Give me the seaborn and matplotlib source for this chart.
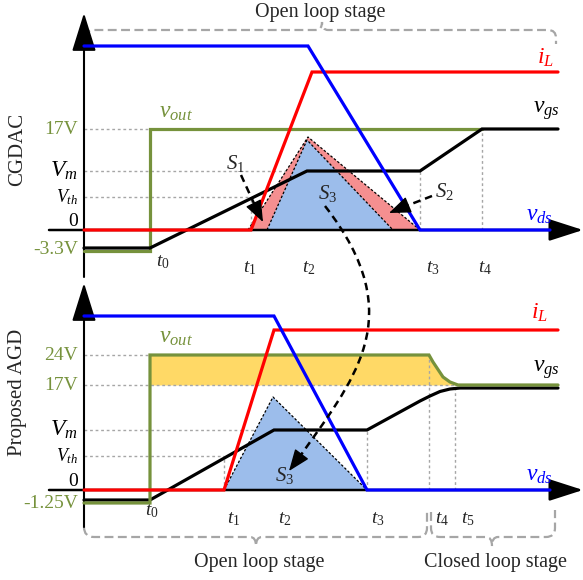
import matplotlib
matplotlib.use("Agg")
import matplotlib.pyplot as plt
from matplotlib.path import Path
from matplotlib.patches import PathPatch
import seaborn as sns

sns.set_theme(style="white")
plt.rcParams["font.family"] = ["Liberation Serif", "DejaVu Serif"]
plt.rcParams["mathtext.fontset"] = "custom"
plt.rcParams["mathtext.rm"] = "Liberation Serif"
plt.rcParams["mathtext.it"] = "Liberation Serif:italic"

# ---------------- waveform data (time in diagram units, level above zero line) -------------
# CGDAC panel
top_tick_labels = ["$t_0$", "$t_1$", "$t_2$", "$t_3$", "$t_4$"]
top_ticks = [150, 251, 307, 420, 482]
top_vds_t = [84, 308, 420, 550]
top_vds = [184, 184, 0, 0]
top_il_t = [84, 251, 312, 558]
top_il = [0, 0, 158, 158]
top_vout_t = [84, 150, 150, 482]
top_vout = [-21, -21, 101, 101]
top_vgs_t = [84, 150, 307, 420, 482, 558]
top_vgs = [-18, -18, 59, 59, 101, 101]
top_s_outer_t = [248, 308, 420]
top_s_outer = [0, 93, 0]
top_s_inner_t = [267, 307, 393]
top_s_inner = [0, 90, 0]
top_level_labels = ["17V", "$V_m$", "$V_{th}$", "0", "-3.3V"]
top_levels = [101, 59, 33, 8, -19]

# Proposed AGD panel
bot_tick_labels = ["$t_0$", "$t_1$", "$t_2$", "$t_3$", "$t_4$", "$t_5$"]
bot_ticks = [150, 224, 274, 367, 429, 455]
bot_vds_t = [84, 274, 367, 550]
bot_vds = [174, 174, 0, 0]
bot_il_t = [84, 224, 274, 558]
bot_il = [0, 0, 160, 160]
bot_vout_t = [84, 150, 150, 429, 433, 437, 443, 450, 458, 558]
bot_vout = [-13, -13, 135, 135, 128, 122, 113, 108, 105, 105]
bot_vgs_t = [84, 150, 274, 367, 420, 430, 440, 450, 460, 558]
bot_vgs = [-10, -10, 60, 60, 89, 94, 98.5, 101, 102, 102]
bot_s_t = [224, 273, 367]
bot_s = [0, 93, 0]
bot_level_labels = ["24V", "17V", "$V_m$", "$V_{th}$", "0", "-1.25V"]
bot_levels = [135, 105, 60, 34, 8, -13]

# ---------------- styling ----------------
BLUE = "#0000FF"
RED = "#FF0000"
GREEN = "#76923C"
BLACK = "#000000"
GRID = "#A6A6A6"
FILL_BLUE = "#9CBDEB"
FILL_PINK = "#F58F90"
FILL_YELLOW = "#FFD966"
LW = 2.3

fig = plt.figure(figsize=(5.83, 5.80), dpi=100)
ax = fig.add_axes([0, 0, 1, 1])
ax.set_xlim(0, 583)
ax.set_ylim(580, 0)
ax.axis("off")

TOP0 = 230   # zero line of upper panel
BOT0 = 490   # zero line of lower panel
AXIS_X = 84


def Y(base, vals):
    return [base - v for v in vals]


def wave(t, v, base, color, z=3, lw=LW):
    sns.lineplot(x=t, y=Y(base, v), sort=False, estimator=None, color=color,
                 lw=lw, ax=ax, zorder=z, solid_joinstyle="miter")


def dotted_h(level, base, x_end):
    ax.plot([AXIS_X, x_end], [base - level] * 2, ls=(0, (2, 2)), color=GRID, lw=1, zorder=1)


def dotted_v(x, base, level):
    ax.plot([x, x], [base, base - level], ls=(0, (2, 2)), color=GRID, lw=1, zorder=1)


def axes_arrows(base, y_top, y_bottom):
    ax.annotate("", xy=(583, base), xytext=(49, base),
                arrowprops=dict(arrowstyle="-|>,head_length=1.4,head_width=0.45",
                                color=BLACK, lw=1.8, shrinkA=0, shrinkB=0, mutation_scale=15),
                zorder=2)
    ax.annotate("", xy=(AXIS_X, y_top), xytext=(AXIS_X, y_bottom),
                arrowprops=dict(arrowstyle="-|>,head_length=1.6,head_width=0.5",
                                color=BLACK, lw=1.5, shrinkA=0, shrinkB=0, mutation_scale=15),
                zorder=2)


def dashed_arrow(start, tip, head_from):
    ax.plot([start[0], head_from[0]], [start[1], head_from[1]], color=BLACK,
            lw=1.8, ls=(0, (3, 2)), zorder=8)
    ax.annotate("", xy=tip, xytext=head_from,
                arrowprops=dict(arrowstyle="-|>,head_length=0.9,head_width=0.35",
                                color=BLACK, lw=1.0, shrinkA=0, shrinkB=0, mutation_scale=15),
                zorder=8)


def brace(verts, codes):
    ax.add_patch(PathPatch(Path(verts, codes), fill=False, edgecolor=GRID, lw=1.6,
                           ls=(0, (4, 2)), zorder=1))


# ================= upper panel: CGDAC =================
axes_arrows(TOP0, 13, 277)

# gridlines to the key levels and instants
dotted_h(top_levels[0], TOP0, top_vout_t[1])
dotted_h(top_levels[1], TOP0, top_ticks[2])
dotted_h(top_levels[2], TOP0, top_ticks[1])
dotted_v(top_ticks[1], TOP0, top_levels[2])
dotted_v(top_ticks[2], TOP0, top_levels[1])
dotted_v(top_ticks[3], TOP0, top_levels[1])
dotted_v(top_ticks[4], TOP0, top_levels[0])

# switching-loss areas S1, S2 (pink) and S3 (blue)
ax.fill(top_s_outer_t, Y(TOP0, top_s_outer), color=FILL_PINK, lw=0, zorder=1.5)
ax.fill(top_s_inner_t, Y(TOP0, top_s_inner), color=FILL_BLUE, lw=0, zorder=1.6)
ax.plot(top_s_outer_t, Y(TOP0, top_s_outer), color=BLACK, lw=0.9, ls=(0, (2, 1.5)), zorder=1.7)
ax.plot(top_s_inner_t, Y(TOP0, top_s_inner), color=BLACK, lw=0.9, ls=(0, (2, 1.5)), zorder=1.7)

wave(top_vout_t, top_vout, TOP0, GREEN, z=3)
wave(top_vgs_t, top_vgs, TOP0, BLACK, z=4)
wave(top_il_t, top_il, TOP0, RED, z=5)
wave(top_vds_t, top_vds, TOP0, BLUE, z=6)

# ================= lower panel: Proposed AGD =================
axes_arrows(BOT0, 283, 527)

ax.fill_between(bot_vout_t[2:9], Y(BOT0, bot_vout[2:9]), BOT0 - bot_levels[1],
                color=FILL_YELLOW, lw=0, zorder=1)

dotted_h(bot_levels[0], BOT0, bot_vout_t[1])
dotted_h(bot_levels[1], BOT0, bot_ticks[5])
dotted_h(bot_levels[2], BOT0, bot_ticks[2])
dotted_h(bot_levels[3], BOT0, bot_ticks[1])
dotted_v(bot_ticks[1], BOT0, bot_levels[3])
dotted_v(bot_ticks[2], BOT0, bot_levels[2])
dotted_v(bot_ticks[3], BOT0, bot_levels[2])
dotted_v(bot_ticks[4], BOT0, bot_levels[0])
dotted_v(bot_ticks[5], BOT0, bot_levels[1])

ax.fill(bot_s_t, Y(BOT0, bot_s), color=FILL_BLUE, lw=0, zorder=1.6)
ax.plot(bot_s_t, Y(BOT0, bot_s), color=BLACK, lw=0.9, ls=(0, (2, 1.5)), zorder=1.7)

wave(bot_vgs_t, bot_vgs, BOT0, BLACK, z=3)
wave(bot_vout_t, bot_vout, BOT0, GREEN, z=4)
wave(bot_il_t, bot_il, BOT0, RED, z=5)
wave(bot_vds_t, bot_vds, BOT0, BLUE, z=6)

# ================= text =================
FS = 14
for lab, lev in zip(top_level_labels, top_levels):
    col = GREEN if lab.endswith("V") else BLACK
    size = 17 if "V_m" in lab else (13 if "th" in lab else FS)
    ax.text(78, TOP0 - lev, lab, ha="right", va="center", color=col, fontsize=size)
for lab, lev in zip(bot_level_labels, bot_levels):
    col = GREEN if lab.endswith("V") else BLACK
    size = 17 if "V_m" in lab else (13 if "th" in lab else FS)
    ax.text(78, BOT0 - lev, lab, ha="right", va="center", color=col, fontsize=size)

top_tick_pos = [163, 250, 309, 433, 485]
for lab, x, yy in zip(top_tick_labels, top_tick_pos, [262, 268, 268, 268, 268]):
    ax.text(x, yy, lab, ha="center", va="center", fontsize=FS)
bot_tick_pos = [152, 234, 285, 378, 442, 468]
for lab, x, yy in zip(bot_tick_labels, bot_tick_pos, [511, 519, 519, 519, 519, 519]):
    ax.text(x, yy, lab, ha="center", va="center", fontsize=FS)

ax.text(18, 149, "CGDAC", rotation=90, ha="center", va="center", fontsize=15)
ax.text(18, 392, "Proposed AGD", rotation=90, ha="center", va="center", fontsize=15)

SIG = 17
ax.text(545, 58, "$i_L$", color=RED, fontsize=SIG, ha="center", va="center")
ax.text(546, 111, "$v_{gs}$", color=BLACK, fontsize=SIG, ha="center", va="center")
ax.text(539, 216, "$v_{ds}$", color=BLUE, fontsize=SIG, ha="center", va="center")
ax.text(176, 113, "$v_{out}$", color=GREEN, fontsize=SIG, ha="center", va="center")
ax.text(539, 313, "$i_L$", color=RED, fontsize=SIG, ha="center", va="center")
ax.text(546, 370, "$v_{gs}$", color=BLACK, fontsize=SIG, ha="center", va="center")
ax.text(539, 475, "$v_{ds}$", color=BLUE, fontsize=SIG, ha="center", va="center")
ax.text(176, 338, "$v_{out}$", color=GREEN, fontsize=SIG, ha="center", va="center")

ax.text(235, 163, "$S_1$", fontsize=15, ha="center", va="center", zorder=9)
ax.text(444, 191, "$S_2$", fontsize=15, ha="center", va="center", zorder=9)
ax.text(328, 194, "$S_3$", fontsize=15, ha="center", va="center", zorder=9)
ax.text(285, 475, "$S_3$", fontsize=15, ha="center", va="center", zorder=9)

dashed_arrow((241, 175), (263, 222), (257, 210))
dashed_arrow((432, 196), (389, 213), (401, 208))

# curved arrow linking S3 of both panels
curve = Path([(325, 206), (412, 318), (353, 380), (296, 462)],
             [Path.MOVETO, Path.CURVE4, Path.CURVE4, Path.CURVE4])
ax.add_patch(PathPatch(curve, fill=False, edgecolor=BLACK, lw=1.8, ls=(0, (3, 2)), zorder=8))
ax.annotate("", xy=(289, 471), xytext=(298, 459),
            arrowprops=dict(arrowstyle="-|>,head_length=0.9,head_width=0.35",
                            color=BLACK, lw=1.0, shrinkA=0, shrinkB=0, mutation_scale=15),
            zorder=8)

# stage braces
M, L, C = Path.MOVETO, Path.LINETO, Path.CURVE3
brace([(86, 38), (86, 30), (94, 30), (316, 30), (322, 30), (322, 22), (322, 30), (328, 30),
       (548, 30), (556, 30), (556, 38), (556, 44)],
      [M, C, C, L, C, C, C, C, L, C, C, L])
brace([(84, 527), (84, 537), (94, 537), (250, 537), (256, 537), (256, 546), (256, 537),
       (262, 537), (418, 537), (427, 537), (427, 528), (427, 512)],
      [M, C, C, L, C, C, C, C, L, C, C, L])
brace([(431, 512), (431, 528), (431, 537), (440, 537), (486, 537), (492, 537), (492, 546),
       (492, 537), (498, 537), (546, 537), (555, 537), (555, 528), (555, 510)],
      [M, L, C, C, L, C, C, C, C, L, C, C, L])

ax.text(320, 12, "Open loop stage", ha="center", va="center", fontsize=14.5)
ax.text(259, 562, "Open loop stage", ha="center", va="center", fontsize=14.5)
ax.text(495, 562, "Closed loop stage", ha="center", va="center", fontsize=14.5)

fig.savefig("out.png", dpi=100)
